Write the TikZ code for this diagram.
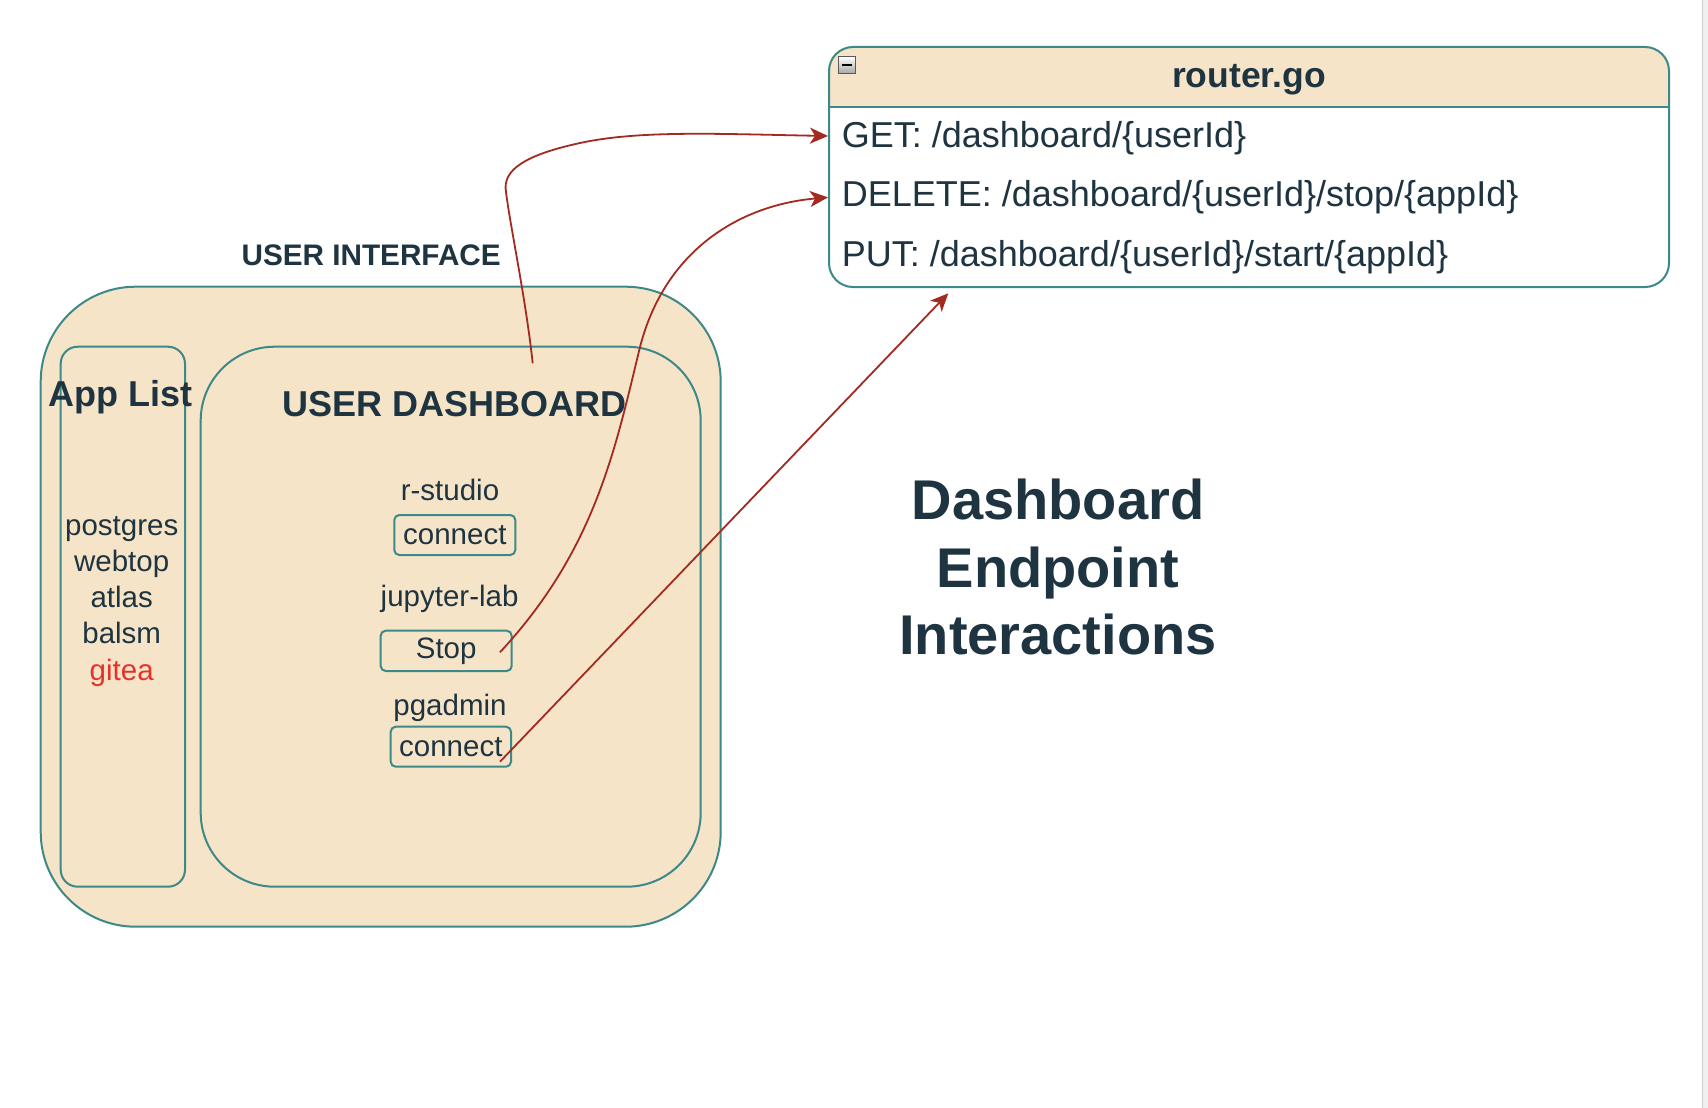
\documentclass[tikz,border=0pt]{standalone}
\usepackage{fontspec}
\setmainfont{Liberation Sans}
\usetikzlibrary{arrows.meta}
\definecolor{boxfill}{HTML}{F6E4C8}
\definecolor{boxline}{HTML}{3D8888}
\definecolor{inktext}{HTML}{1E3440}
\definecolor{edgered}{HTML}{A32A20}
\definecolor{giteared}{HTML}{E5332A}
\begin{document}
\begin{tikzpicture}[x=1pt,y=-1pt,
  container/.style={draw=boxline, fill=boxfill, line width=2pt, inner sep=0pt},
  btn/.style={draw=boxline, line width=2pt, rounded corners=5pt, inner sep=0pt, text=inktext, font=\fontsize{29.5}{35}\selectfont},
  txt/.style={text=inktext, inner sep=0pt, anchor=base, font=\fontsize{29.5}{35}\selectfont},
  route/.style={text=inktext, inner sep=0pt, anchor=base west, font=\fontsize{36}{43}\selectfont},
  bigtitle/.style={text=inktext, inner sep=0pt, anchor=base, font=\bfseries\fontsize{56}{67}\selectfont},
  edge/.style={draw=edgered, line width=1.8pt, -{Stealth[length=18pt,width=16pt,inset=5pt]}}]
\useasboundingbox (0,0) rectangle (1708,1108);
\fill[white] (0,0) rectangle (1708,1108);
% right window edge
\fill[black!6] (1702,0) rectangle (1708,1108);
\draw[black!18, line width=1.5pt] (1702.5,0) -- (1702.5,1108);

% user interface container
\node[container, rounded corners=95pt, minimum width=680pt, minimum height=640pt] (ui) at (380.7,606.7) {};
\node[txt, font=\bfseries\fontsize{29.7}{35}\selectfont] (uititle) at (371.2,265.7) {USER INTERFACE};

% app list
\node[container, rounded corners=17pt, minimum width=124.3pt, minimum height=540pt] (applist) at (122.85,616.7) {};
\node[txt, font=\bfseries\fontsize{36}{43}\selectfont] (applisttitle) at (120.5,406.7) {App List};
\node[txt] (postgres) at (121.7,535) {postgres};
\node[txt] (webtop) at (121.7,571.3) {webtop};
\node[txt] (atlas) at (121.7,607.5) {atlas};
\node[txt] (balsm) at (121.7,643.7) {balsm};
\node[txt, text=giteared] (gitea) at (121.7,680) {gitea};

% user dashboard
\node[container, rounded corners=74pt, minimum width=500pt, minimum height=540pt] (dash) at (450.7,616.7) {};
\node[txt, font=\bfseries\fontsize{36}{43}\selectfont] (dashtitle) at (454.5,416.7) {USER DASHBOARD};
\node[txt] (rstudio) at (450,500) {r-studio};
\node[btn, minimum width=121pt, minimum height=40pt] (conn1) at (454.8,535) {connect};
\node[txt] (jupyter) at (449.6,606.7) {jupyter-lab};
\node[btn, minimum width=131pt, minimum height=40.3pt] (stop) at (446.2,650.85) {Stop};
\node[txt] (pgadmin) at (450,715) {pgadmin};
\node[btn, minimum width=120.3pt, minimum height=40pt] (conn2) at (450.85,746.7) {connect};

% router.go
\fill[white, rounded corners=24pt] (829,47) rectangle (1669,287);
\begin{scope}
  \clip[rounded corners=24pt] (829,47) rectangle (1669,287);
  \fill[boxfill] (829,47) rectangle (1669,107);
\end{scope}
\draw[boxline, line width=2pt] (829,107) -- (1669,107);
\node[draw=boxline, line width=2pt, rounded corners=24pt, minimum width=840pt, minimum height=240pt, inner sep=0pt] (router) at (1249,167) {};
\node[draw=black!65, line width=1pt, minimum size=17pt, inner sep=0pt, top color=white, bottom color=black!35] (collapse) at (847,65) {};
\draw[black, line width=2pt] ([xshift=-5pt]collapse.center) -- ([xshift=5pt]collapse.center);
\node[text=inktext, inner sep=0pt, anchor=base, font=\bfseries\fontsize{35.5}{42}\selectfont] (routertitle) at (1249,87.3) {router.go};
\node[route] (get) at (841.7,147.3) {GET: /dashboard/\{userId\}};
\node[route] (del) at (841.7,206.7) {DELETE: /dashboard/\{userId\}/stop/\{appId\}};
\node[route] (put) at (841.7,266.7) {PUT: /dashboard/\{userId\}/start/\{appId\}};

% title
\node[bigtitle] (t1) at (1058,519.3) {Dashboard};
\node[bigtitle] (t2) at (1058,587.3) {Endpoint};
\node[bigtitle] (t3) at (1058,654) {Interactions};

% connectors
\path ([xshift=82pt,yshift=-17.6pt]dash.north) coordinate (getsrc);
\path (router.west |- get.center) ++(0,-2) coordinate (getin);
\path (router.west |- del.center) coordinate (delin);
\path ([xshift=-12.7pt,yshift=-1.4pt]stop.east) coordinate (stopsrc);
\path ([xshift=-12pt,yshift=-15pt]conn2.east) coordinate (connsrc);
\coordinate (putend) at (948.3,293.3);

\draw[edge] (getsrc) .. controls (526,300) and (510,225) .. (506,192)
  .. controls (502,170) and (525,155) .. (580,143)
  .. controls (640,130) and (720,134) .. (getin);
\draw[edge] (stopsrc) .. controls (595,550) and (615,450) .. (640,347)
  .. controls (665,250) and (740,205) .. (delin);
\draw[edge] (connsrc) -- (putend);
\end{tikzpicture}
\end{document}
